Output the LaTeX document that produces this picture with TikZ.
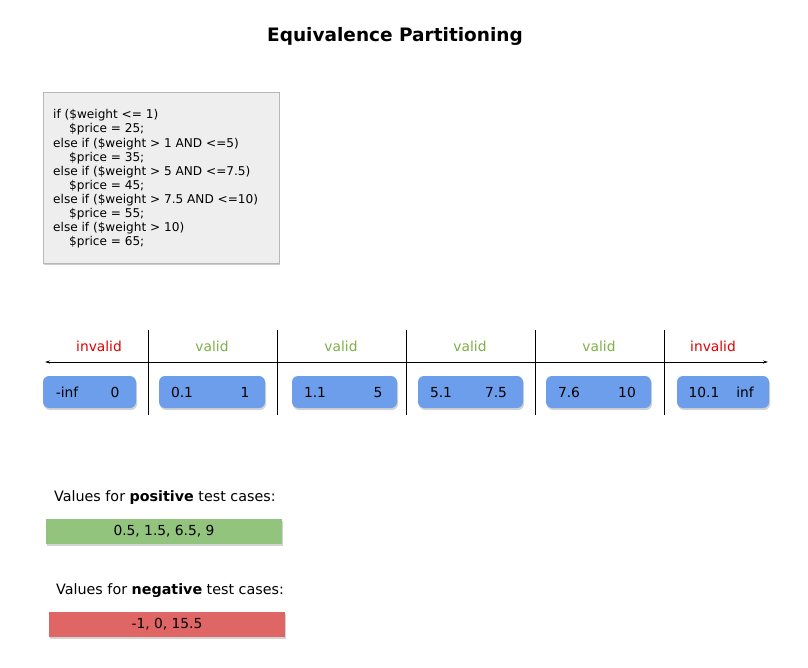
\documentclass[tikz,border=0pt]{standalone}
\usepackage{fontspec}
\setmainfont{DejaVu Sans}
\usetikzlibrary{positioning, arrows.meta, shadows}
\usepackage{xcolor}
\definecolor{epgray}{HTML}{EEEEEE}
\definecolor{epborder}{HTML}{B7B7B7}
\definecolor{epblue}{HTML}{6D9EEB}
\definecolor{epgreen}{HTML}{93C47D}
\definecolor{epred}{HTML}{E06666}
\definecolor{eplblred}{HTML}{E00000}
\definecolor{eplblgreen}{HTML}{7DB045}

\tikzset{
  rangebox/.style={fill=epblue, rounded corners=6pt, minimum height=32pt,
    inner sep=0pt, drop shadow={opacity=0.35, shadow xshift=1pt, shadow yshift=-2pt}},
  valbox/.style={minimum width=236pt, minimum height=25pt, inner sep=0pt,
    drop shadow={opacity=0.35, shadow xshift=1pt, shadow yshift=-2pt}},
  num/.style={anchor=base, inner sep=0pt},
  sep/.style={line width=0.8pt}
}

\begin{document}
\begin{tikzpicture}[x=1pt, y=-1pt, font=\fontsize{13.8}{16}\selectfont]
    \useasboundingbox (0,0) rectangle (808,668);
    \node[font=\fontsize{18.5}{22}\selectfont\bfseries] (title) at (395,36) {Equivalence Partitioning};
    % code block
    \node[fill=epgray, draw=epborder, minimum width=236pt, minimum height=171pt,
      drop shadow={opacity=0.4, shadow xshift=1pt, shadow yshift=-2pt}] (code) at (161,177.5) {};
    \node[anchor=north west, align=left, inner sep=0pt,
      font=\fontsize{12.1}{14.1}\selectfont] (codetxt) at (53,109.5) {%
      if (\$weight <= 1)\\
      \hspace*{16pt}\$price = 25;\\
      else if (\$weight > 1 AND <=5)\\
      \hspace*{16pt}\$price = 35;\\
      else if (\$weight > 5 AND <=7.5)\\
      \hspace*{16pt}\$price = 45;\\
      else if (\$weight > 7.5 AND <=10)\\
      \hspace*{16pt}\$price = 55;\\
      else if (\$weight > 10)\\
      \hspace*{16pt}\$price = 65;};
    % number line
    \coordinate (axisL) at (45,362);
    \coordinate (axisR) at (768,362);
    \draw[line width=0.8pt, {Stealth[length=5pt,width=3pt]}-{Stealth[length=5pt,width=3pt]}] (axisL) -- (axisR);
    \coordinate (s1t) at (148,330); \coordinate (s1b) at (148,415);
    \coordinate (s2t) at (277,330); \coordinate (s2b) at (277,415);
    \coordinate (s3t) at (406,330); \coordinate (s3b) at (406,415);
    \coordinate (s4t) at (535,330); \coordinate (s4b) at (535,415);
    \coordinate (s5t) at (664,330); \coordinate (s5b) at (664,415);
    \draw[sep] (s1t) -- (s1b);
    \draw[sep] (s2t) -- (s2b);
    \draw[sep] (s3t) -- (s3b);
    \draw[sep] (s4t) -- (s4b);
    \draw[sep] (s5t) -- (s5b);
    \node[text=eplblred] (lbl1) at (99,346) {invalid};
    \node[text=eplblgreen] (lbl2) at (212,346) {valid};
    \node[text=eplblgreen] (lbl3) at (341,346) {valid};
    \node[text=eplblgreen] (lbl4) at (470,346) {valid};
    \node[text=eplblgreen] (lbl5) at (599,346) {valid};
    \node[text=eplblred] (lbl6) at (713,346) {invalid};
    % ranges
    \node[rangebox, minimum width=93pt] (box1) at (89.5,392) {};
    \node[rangebox, minimum width=106pt] (box2) at (212,392) {};
    \node[rangebox, minimum width=105pt] (box3) at (344.5,392) {};
    \node[rangebox, minimum width=105pt] (box4) at (470.5,392) {};
    \node[rangebox, minimum width=105pt] (box5) at (598.5,392) {};
    \node[rangebox, minimum width=92pt] (box6) at (723,392) {};
    \node[num] (lo1) at (67,397) {-inf};
    \node[num] (hi1) at (115,397) {0};
    \node[num] (lo2) at (182,397) {0.1};
    \node[num] (hi2) at (245,397) {1};
    \node[num] (lo3) at (315,397) {1.1};
    \node[num] (hi3) at (378,397) {5};
    \node[num] (lo4) at (441,397) {5.1};
    \node[num] (hi4) at (496,397) {7.5};
    \node[num] (lo5) at (569,397) {7.6};
    \node[num] (hi5) at (627,397) {10};
    \node[num] (lo6) at (704,397) {10.1};
    \node[num] (hi6) at (745,397) {inf};
    % test values
    \node[anchor=west, inner sep=0pt, font=\fontsize{14.3}{16}\selectfont] (postxt) at (54,498) {Values for \textbf{positive} test cases:};
    \node[valbox, fill=epgreen] (posbox) at (164,531.5) {0.5, 1.5, 6.5, 9};
    \node[anchor=west, inner sep=0pt, font=\fontsize{14.3}{16}\selectfont] (negtxt) at (56,591) {Values for \textbf{negative} test cases:};
    \node[valbox, fill=epred] (negbox) at (167,624.5) {-1, 0, 15.5};
  \end{tikzpicture}
\end{document}
